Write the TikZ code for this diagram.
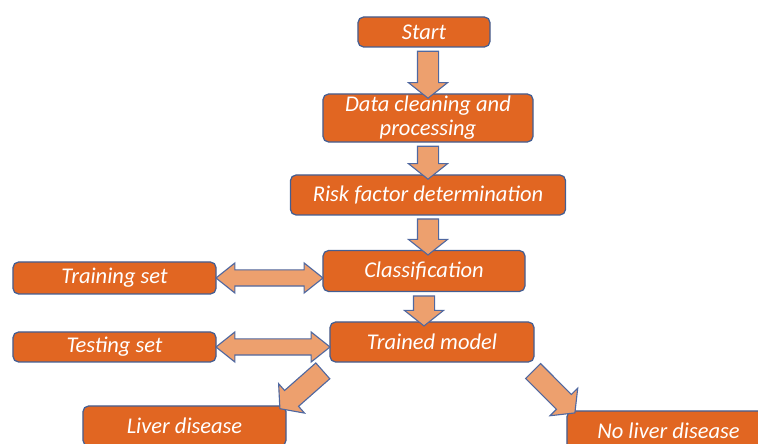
\documentclass[tikz,border=0pt]{standalone}
\usepackage{fontspec}
\setmainfont{Carlito}
\usepackage{tikz}
\usetikzlibrary{calc,positioning,arrows,shapes.arrows}
\definecolor{boxorange}{RGB}{225,102,34}
\definecolor{boxedge}{RGB}{68,94,146}
\definecolor{arrowfill}{RGB}{237,160,110}
\definecolor{arrowedge}{RGB}{80,104,160}

\begin{document}
\begin{tikzpicture}[>=latex', x=0.025cm, y=-0.025cm]
      \tikzset{
	  stage/.style={rectangle, rounded corners=4pt, draw=boxedge, line width=0.9pt, fill=boxorange, text=white, inner sep=0pt, align=center, font=\fontsize{16}{17}\selectfont\itshape},
	  fatarrow/.style={single arrow, draw=arrowedge, line width=0.8pt, fill=arrowfill, inner xsep=0pt, inner ysep=0.25cm, minimum width=0.95cm, single arrow head extend=0.225cm, single arrow tip angle=103, midway, sloped, allow upside down},
	  twoway/.style={double arrow, draw=arrowedge, line width=0.8pt, fill=arrowfill, inner xsep=0pt, inner ysep=0.1875cm, minimum width=0.725cm, double arrow head extend=0.175cm, double arrow tip angle=77, midway, sloped, allow upside down},
      }
      \clip (0,0) rectangle (758,444);

      \node (start) at (424,32) [stage, minimum width=3.3cm, minimum height=0.75cm] {Start};
      \node (clean) at (428,118) [stage, minimum width=5.25cm, minimum height=1.2cm] {Data cleaning and\\processing};
      \node (risk) at (428,195) [stage, minimum width=6.875cm, minimum height=1.0cm] {Risk factor determination};
      \node (class) at (424,271) [stage, minimum width=5.05cm, minimum height=1.025cm] {Classification};
      \node (train) at (114.5,278) [stage, minimum width=5.075cm, minimum height=0.8cm] {Training set};
      \node (model) at (432,342) [stage, minimum width=5.1cm, minimum height=1.0cm] {Trained model};
      \node (test) at (114.5,347) [stage, minimum width=5.075cm, minimum height=0.75cm] {Testing set};
      \node (liver) at (184.5,426) [stage, minimum width=5.075cm, minimum height=1.0cm] {Liver disease};
      \node (noliver) at (668.5,431) [stage, minimum width=5.075cm, minimum height=1.0cm] {No liver disease};

      % flow down the middle
      \path (clean.north |- start.south) -- (clean.north) node [fatarrow, minimum height=1.175cm] {};
      \path (clean.south) -- (risk.north) node [fatarrow, minimum height=0.825cm] {};
      \path (risk.south) -- (risk.south |- class.north) node [fatarrow, minimum height=0.9cm] {};
      \path (class.south) -- (class.south |- model.north) node [fatarrow, minimum height=0.75cm] {};

      % data sets
      \path (train.east) -- (train.east -| class.west) node [twoway, minimum height=2.675cm] {};
      \path (test.east) -- (test.east -| model.west) node [twoway, minimum height=2.85cm] {};

      % outcomes
      \path ($(model.south west)+(-4,6)$) -- ($(liver.north east)+(-3,0)$) node [fatarrow, minimum height=1.43cm] {};
      \path ($(model.south east)+(-4,6)$) -- ($(noliver.north west)+(5,-1)$) node [fatarrow, minimum height=1.48cm] {};
\end{tikzpicture}
\end{document}
